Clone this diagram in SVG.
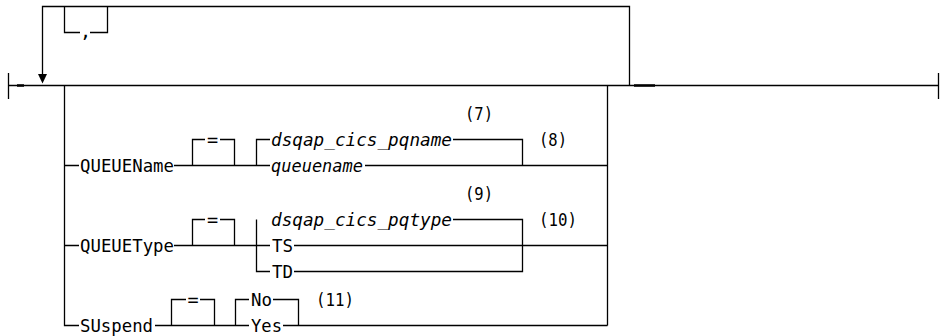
<svg xmlns="http://www.w3.org/2000/svg" width="944" height="336" viewBox="0 0 944 336">
<style>
.ln{fill:none;stroke:#000;stroke-width:1.3}
.dash{fill:none;stroke:#000;stroke-width:2.4}
text{font-family:"DejaVu Sans Mono","Liberation Mono",monospace;font-size:18.5px;fill:#000}
.it{font-style:italic}
.m{text-anchor:middle}
</style>
<rect width="944" height="336" fill="#fff"/>
<g id="connectors">
<path class="ln" d="M8.5,73 V99 M938.5,73 V99 M8.5,85.5 H938.5"/>
<path class="dash" d="M17,85.5 H24 M634,85.5 H655"/>
<path class="ln" d="M42.5,75 V6.5 H629.5 V85.5"/>
<polygon points="38,74 47,74 42.5,83.5" fill="#000"/>
<path class="ln" d="M64.5,6.5 V32.5 H80 M90,32.5 H107.5 V6.5"/>
<path class="ln" d="M64.5,85.5 V325.5 H79 M607.5,85.5 V325.5"/>
<path class="ln" d="M64.5,165.5 H79 M174,165.5 H270 M365,165.5 H607.5"/>
<path class="ln" d="M192.5,165.5 V139.5 H205 M220,139.5 H234.5 V165.5"/>
<path class="ln" d="M256.5,165.5 V139.5 H270 M453,139.5 H522.5 V165.5"/>
<path class="ln" d="M64.5,245.5 H79 M174,245.5 H270 M294,245.5 H607.5"/>
<path class="ln" d="M192.5,245.5 V219.5 H205 M220,219.5 H234.5 V245.5"/>
<path class="ln" d="M256.5,219.5 V271.5 H270 M294,271.5 H522.5 V219.5 H453"/>
<path class="ln" d="M155,325.5 H249 M283,325.5 H607.5"/>
<path class="ln" d="M171.5,325.5 V299.5 H186 M200,299.5 H214.5 V325.5"/>
<path class="ln" d="M235.5,325.5 V299.5 H249 M273,299.5 H298.5 V325.5"/>
</g>
<g id="comma"><text x="85.5" y="38" class="m">,</text></g>
<g id="queuename-kw"><text x="80" y="172" textLength="94" lengthAdjust="spacingAndGlyphs">QUEUEName</text></g>
<g id="eq1"><text x="212.5" y="146" class="m">=</text></g>
<g id="dsqap-pqname"><text x="271" y="146" class="it" textLength="181" lengthAdjust="spacingAndGlyphs">dsqap_cics_pqname</text></g>
<g id="queuename-var"><text x="271" y="172" class="it" textLength="92" lengthAdjust="spacingAndGlyphs">queuename</text></g>
<g id="note7"><text x="465" y="120" textLength="28" lengthAdjust="spacingAndGlyphs">(7)</text></g>
<g id="note8"><text x="539" y="146" textLength="28" lengthAdjust="spacingAndGlyphs">(8)</text></g>
<g id="queuetype-kw"><text x="80" y="252" textLength="94" lengthAdjust="spacingAndGlyphs">QUEUEType</text></g>
<g id="eq2"><text x="212.5" y="226" class="m">=</text></g>
<g id="dsqap-pqtype"><text x="271" y="226" class="it" textLength="181" lengthAdjust="spacingAndGlyphs">dsqap_cics_pqtype</text></g>
<g id="ts"><text x="272" y="252" textLength="21" lengthAdjust="spacingAndGlyphs">TS</text></g>
<g id="td"><text x="272" y="278" textLength="21" lengthAdjust="spacingAndGlyphs">TD</text></g>
<g id="note9"><text x="465" y="200" textLength="28" lengthAdjust="spacingAndGlyphs">(9)</text></g>
<g id="note10"><text x="539" y="226" textLength="38" lengthAdjust="spacingAndGlyphs">(10)</text></g>
<g id="suspend-kw"><text x="80" y="332" textLength="73" lengthAdjust="spacingAndGlyphs">SUspend</text></g>
<g id="eq3"><text x="193" y="306" class="m">=</text></g>
<g id="no"><text x="251" y="306" textLength="21" lengthAdjust="spacingAndGlyphs">No</text></g>
<g id="yes"><text x="251" y="332" textLength="31" lengthAdjust="spacingAndGlyphs">Yes</text></g>
<g id="note11"><text x="316" y="306" textLength="38" lengthAdjust="spacingAndGlyphs">(11)</text></g>
</svg>
